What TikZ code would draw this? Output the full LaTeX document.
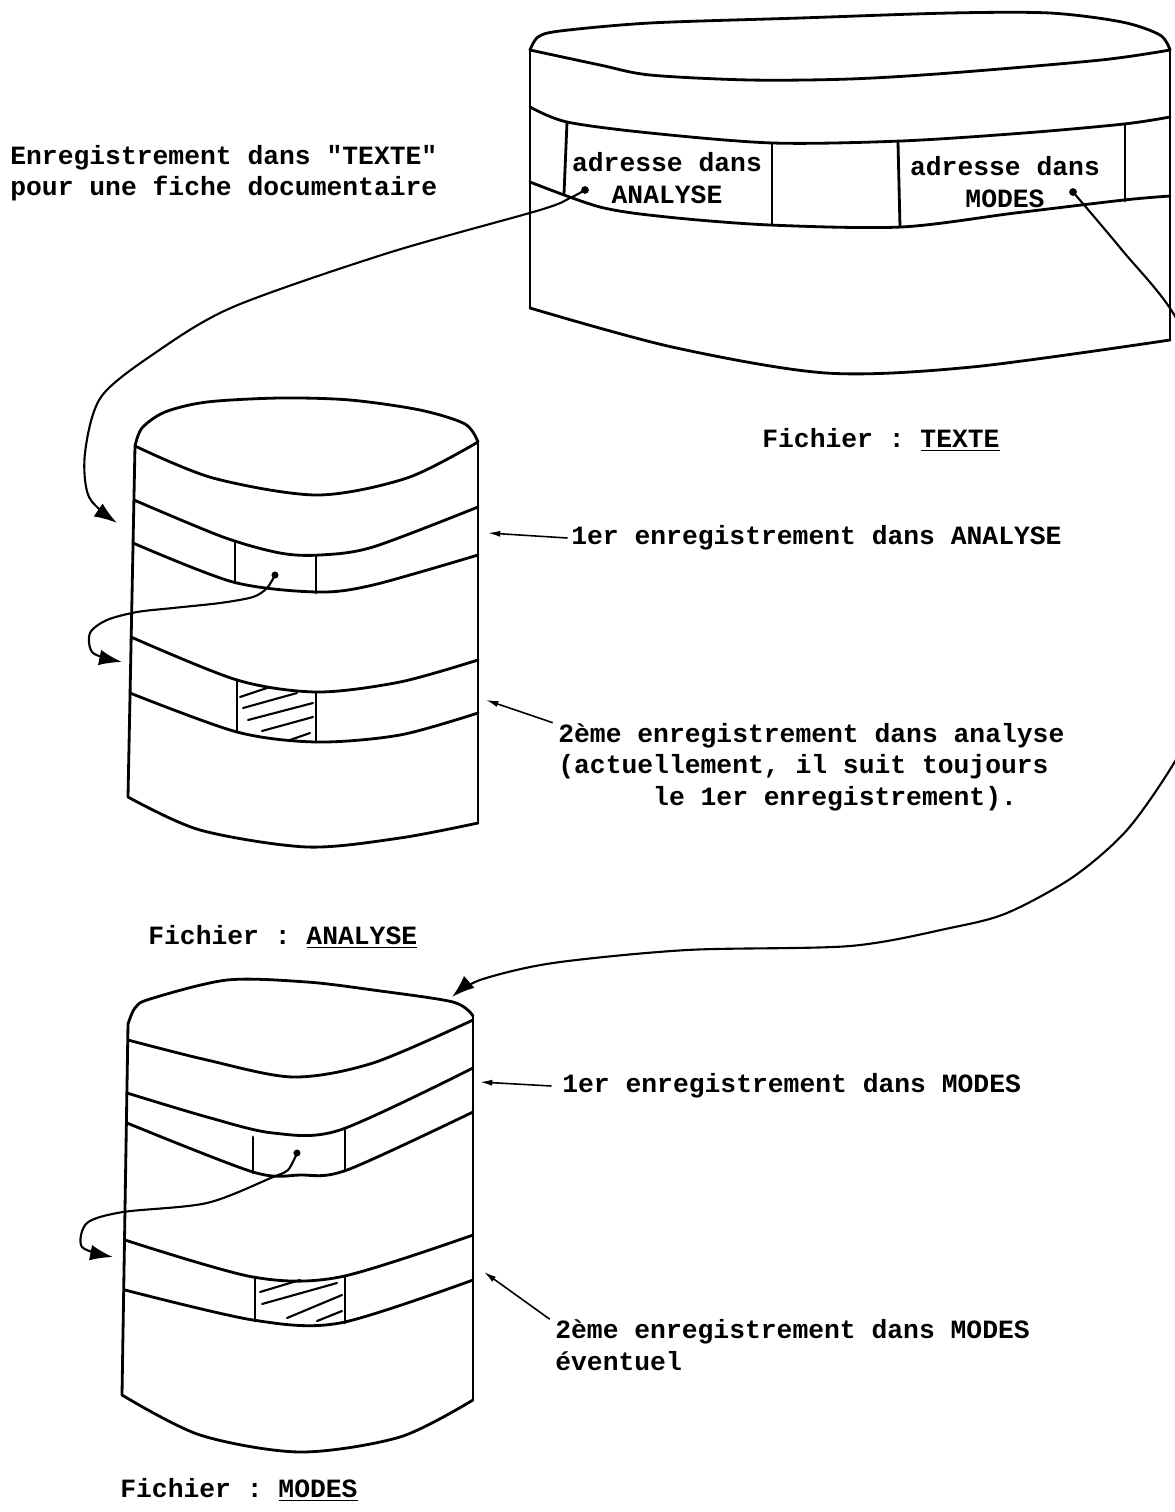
\documentclass[tikz,border=0pt]{standalone}
\usepackage{fontspec}
\setmonofont{Liberation Mono}
\usetikzlibrary{arrows.meta}

\begin{document}
\begin{tikzpicture}[x=0.02cm, y=-0.02cm,
		cyl/.style={line width=1.6pt, line cap=round, line join=round},
		link/.style={line width=1.2pt, -{Latex[length=13pt,width=9pt]}},
		note/.style={line width=0.9pt, -{Latex[length=7pt,width=3.5pt]}},
		hatch/.style={line width=1.2pt, line cap=round},
		txt/.style={font=\ttfamily\bfseries\fontsize{15}{18}\selectfont, inner sep=0pt, align=left}]

		\useasboundingbox (0,0) rectangle (1174,1512);

		% fichier TEXTE
		\draw[cyl] plot[smooth] coordinates {(530,50) (538,37) (560,31) (650,23) (800,18) (950,13) (1050,13) (1122,22) (1160,35) (1170,50)};
		\draw[cyl] plot[smooth] coordinates {(530,50) (600,65) (650,75) (750,80) (850,79) (950,73) (1101,60) (1170,50)};
		\draw[cyl] plot[smooth] coordinates {(530,107) (567,122) (650,133) (773,143) (901,141) (1024,133) (1124,124) (1170,117)};
		\draw[cyl] plot[smooth] coordinates {(530,182) (600,207) (667,217) (770,225) (901,227) (1015,213) (1124,200) (1170,196)};
		\draw[cyl] (530,50) -- (530,308);
		\draw[cyl] (1170,50) -- (1170,340);
		\draw[cyl] plot[smooth] coordinates {(530,308) (672,347) (826,373) (972,367) (1170,340)};
		\draw[cyl] (567,122) -- (564,194);
		\draw[cyl] (772,143) -- (772,225);
		\draw[cyl] (898,142) -- (900,227);
		\draw[cyl] (1125,124) -- (1125,201);
		\node[txt, align=center] (adrA) at (667,178) {adresse dans\\ANALYSE};
		\node[txt, align=center] (adrM) at (1005,182) {adresse dans\\MODES};
		\coordinate (ptrA) at (585,190);
		\coordinate (ptrM) at (1073,192);
		\fill (ptrA) circle[radius=2.2pt];
		\fill (ptrM) circle[radius=2.2pt];
		\node[txt, anchor=west] (fT) at (762,440) {Fichier : \underline{TEXTE}};

		% fichier ANALYSE
		\draw[cyl] plot[smooth] coordinates {(135,446) (142,428) (165,412) (207,402) (280,398) (350,400) (420,410) (465,424) (478,442)};
		\draw[cyl] plot[smooth] coordinates {(135,446) (213,478) (317,495) (407,478) (478,442)};
		\draw[cyl] plot[smooth] coordinates {(134,500) (223,537) (280,553) (320,555) (373,547) (478,507)};
		\draw[cyl] plot[smooth] coordinates {(133,543) (233,582) (317,592) (373,585) (478,555)};
		\draw[cyl] plot[smooth] coordinates {(131,637) (237,680) (317,692) (400,682) (478,660)};
		\draw[cyl] plot[smooth] coordinates {(130,693) (237,732) (317,742) (400,735) (478,713)};
		\draw[cyl] (135,446) -- (128,797);
		\draw[cyl] (478,442) -- (478,823);
		\draw[cyl] plot[smooth] coordinates {(128,797) (200,830) (307,847) (400,838) (478,823)};
		\draw[cyl] (235,543) -- (235,583);
		\draw[cyl] (316,556) -- (316,593);
		\draw[cyl] (237,680) -- (237,732);
		\draw[cyl] (316,692) -- (316,742);
		\foreach \a/\b/\c/\d in {240/697/270/687, 243/708/297/693, 248/720/313/703, 262/731/313/717, 290/740/310/733}
			\draw[hatch] (\a,\b) -- (\c,\d);
		\coordinate (ptrA2) at (275,575);
		\fill (ptrA2) circle[radius=2pt];
		\node[txt, anchor=west] (fA) at (148,937) {Fichier : \underline{ANALYSE}};

		% fichier MODES
		\draw[cyl] plot[smooth] coordinates {(128,1024) (135,1008) (150,999) (227,980) (307,982) (373,990) (453,1002) (473,1016)};
		\draw[cyl] plot[smooth] coordinates {(128,1040) (207,1060) (293,1077) (373,1063) (473,1020)};
		\draw[cyl] plot[smooth] coordinates {(127,1093) (207,1117) (273,1133) (340,1130) (473,1068)};
		\draw[cyl] plot[smooth] coordinates {(127,1123) (253,1172) (300,1175) (347,1170) (473,1112)};
		\draw[cyl] plot[smooth] coordinates {(125,1240) (253,1277) (340,1277) (473,1235)};
		\draw[cyl] plot[smooth] coordinates {(125,1290) (253,1320) (340,1323) (473,1280)};
		\draw[cyl] (128,1024) -- (122,1395);
		\draw[cyl] (473,1016) -- (473,1400);
		\draw[cyl] plot[smooth] coordinates {(122,1395) (200,1435) (300,1452) (400,1437) (473,1400)};
		\draw[cyl] (253,1137) -- (253,1173);
		\draw[cyl] (345,1130) -- (345,1170);
		\draw[cyl] (255,1277) -- (255,1321);
		\draw[cyl] (345,1277) -- (345,1323);
		\foreach \a/\b/\c/\d in {260/1292/300/1280, 262/1304/337/1283, 287/1318/342/1295, 317/1321/342/1311}
			\draw[hatch] (\a,\b) -- (\c,\d);
		\coordinate (ptrM2) at (297,1153);
		\fill (ptrM2) circle[radius=2pt];
		\node[txt, anchor=west] (fM) at (120,1490) {Fichier : \underline{MODES}};

		% liens
		\coordinate (tipA) at (117,523);
		\coordinate (tipM) at (452,997);
		\coordinate (tipA2) at (122,662);
		\coordinate (tipM2) at (113,1257);
		\draw[link] plot[smooth] coordinates {(ptrA) (570,198) (540,210) (388,253) (233,307) (155,353) (101,397) (85,453) (89,497) (tipA)};
		\draw[link] plot[smooth] coordinates {(ptrM) (1122,250) (1176,318) (1215,420) (1230,580) (1205,700) (1174,763) (1127,830) (1073,877) (1007,913) (950,928) (850,946) (687,950) (553,963) (480,980) (tipM)};
		\draw[link] plot[smooth] coordinates {(ptrA2) (267,588) (253,597) (220,603) (173,608) (137,612) (107,620) (90,633) (93,653) (tipA2)};
		\draw[link] plot[smooth] coordinates {(ptrM2) (288,1170) (273,1177) (207,1203) (123,1212) (87,1223) (82,1247) (tipM2)};

		% notes
		\node[txt, anchor=west] (recA1) at (571,538) {1er enregistrement dans ANALYSE};
		\node[txt, anchor=west] (recA2) at (558,767) {2ème enregistrement dans analyse\\(actuellement, il suit toujours\\\phantom{xxxxxx}le 1er enregistrement).};
		\node[txt, anchor=west] (recM1) at (562,1086) {1er enregistrement dans MODES};
		\node[txt, anchor=west] (recM2) at (555,1345) {2ème enregistrement dans MODES\\éventuel};
		\node[txt, anchor=west] (intro) at (10,173) {Enregistrement dans "TEXTE"\\pour une fiche documentaire};
		\coordinate (tipA1) at (488,533);
		\coordinate (tipA3) at (486,700);
		\coordinate (tipM1) at (480,1082);
		\coordinate (tipM3) at (484,1272);
		\draw[note] ([xshift=-2pt]recA1.west) -- (tipA1);
		\draw[note] ([xshift=-3pt]recA2.north west) -- (tipA3);
		\draw[note] ([xshift=-6pt]recM1.west) -- (tipM1);
		\draw[note] ([xshift=-3pt]recM2.north west) -- (tipM3);

\end{tikzpicture}
\end{document}
